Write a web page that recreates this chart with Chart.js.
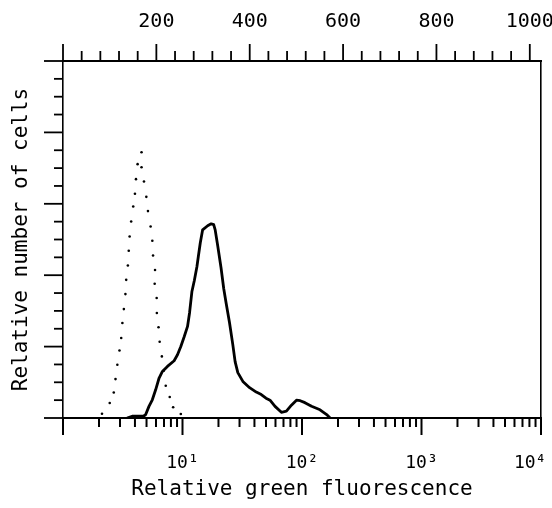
<!DOCTYPE html>
<html>
<head>
<meta charset="utf-8">
<script src="https://cdn.jsdelivr.net/npm/chart.js@4.4.1/dist/chart.umd.min.js"></script>
<style>
html,body{margin:0;padding:0;background:#fff;}
canvas{display:block;}
</style>
</head>
<body>
<canvas id="c" width="552" height="508"></canvas>
<script>
// ---- axis definitions ----
const fluorRange = [1, 10000];            // bottom axis (log)
const channelRange = [0, 1024];           // top axis (linear channel number)
const cellRange = [0, 20];                // left axis (relative number of cells)
const decadeTicks = [1, 10, 100, 1000, 10000];
const decadeLabels = ['', '10¹', '10²', '10³', '10⁴  '];
const minorMultipliers = [2, 3, 4, 5, 6, 7, 8, 9];
const channelTicks = [0, 40, 80, 120, 160, 200, 240, 280, 320, 360, 400, 440, 480, 520, 560, 600,
                      640, 680, 720, 760, 800, 840, 880, 920, 960, 1000];
const channelLabels = [200, 400, 600, 800, 1000];
const cellTicks = [0, 1, 2, 3, 4, 5, 6, 7, 8, 9, 10, 11, 12, 13, 14, 15, 16, 17, 18, 19, 20];
const cellMajorTicks = [0, 4, 8, 12, 16, 20];
const xTitle = 'Relative green fluorescence';
const yTitle = 'Relative number of cells';

// ---- control (dotted) histogram ----
const controlX = [2.12, 2.46, 2.66, 2.75, 2.85, 2.97, 3.07, 3.14, 3.23, 3.33, 3.38, 3.49, 3.55, 3.61,
                  3.72, 3.87, 4.00, 4.08, 4.21, 4.54, 4.54, 4.76, 4.98, 5.14, 5.41, 5.59, 5.67, 5.89,
                  5.85, 6.08, 6.10, 6.30, 6.44, 6.72, 6.96, 7.24, 7.82, 8.35, 9.68];
const controlY = [0.24, 0.84, 1.43, 2.18, 2.98, 3.78, 4.48, 5.32, 6.10, 6.94, 7.74, 8.54, 9.37, 10.17,
                  11.01, 11.85, 12.56, 13.38, 14.22, 14.89, 14.05, 13.25, 12.39, 11.59, 10.73, 9.93, 9.10, 8.29,
                  7.52, 6.72, 5.88, 5.08, 4.27, 3.45, 2.65, 1.81, 1.18, 0.60, 0.22];

// ---- stained (solid) histogram ----
const stainedX = [3.44, 3.79, 4.70, 4.91, 5.24, 5.59, 5.96, 6.37, 6.79, 7.48, 8.51, 9.08, 9.68, 10.33,
                  11.02, 11.46, 11.98, 12.55, 13.20, 13.56, 14.09, 14.74, 16.23, 17.38, 18.24, 18.77,
                  19.71, 21.01, 22.14, 23.15, 24.73, 26.36, 27.56, 29.04, 32.00, 36.43, 41.41, 45.61,
                  49.96, 53.99, 59.48, 67.22, 74.05, 81.58, 89.90, 96.56, 105.8, 120.2, 141.5, 160.8, 171.8];
const stainedY = [0, 0.10, 0.10, 0.18, 0.65, 1.02, 1.58, 2.24, 2.61, 2.89, 3.21, 3.54, 4.01, 4.55,
                  5.13, 5.90, 7.07, 7.69, 8.47, 9.03, 9.82, 10.54, 10.77, 10.88, 10.83, 10.54,
                  9.65, 8.42, 7.24, 6.46, 5.35, 4.11, 3.16, 2.54, 2.05, 1.70, 1.45, 1.31,
                  1.11, 1.00, 0.65, 0.32, 0.38, 0.72, 1.00, 0.97, 0.86, 0.66, 0.46, 0.19, 0];

// ---- derived tick list for the log axis ----
const bottomTickValues = [];
decadeTicks.forEach((d, i) => {
  bottomTickValues.push(d);
  if (i < decadeTicks.length - 1) minorMultipliers.forEach(m => bottomTickValues.push(d * m));
});

const FONT = '"DejaVu Sans Mono", "Liberation Mono", monospace';

const tickMarks = {
  id: 'tickMarks',
  afterDraw(chart) {
    const {ctx, chartArea: a, scales} = chart;
    ctx.save();
    ctx.strokeStyle = '#000';
    ctx.lineCap = 'butt';
    const seg = (x1, y1, x2, y2, w) => {
      ctx.lineWidth = w; ctx.beginPath(); ctx.moveTo(x1, y1); ctx.lineTo(x2, y2); ctx.stroke();
    };
    bottomTickValues.forEach(v => {
      const px = scales.x.getPixelForValue(v);
      const major = decadeTicks.includes(v);
      seg(px, a.bottom, px, a.bottom + (major ? 17 : 9), 2);
    });
    channelTicks.forEach(v => {
      const px = scales.x2.getPixelForValue(v);
      const major = v % 200 === 0;
      seg(px, a.top, px, a.top - (major ? 17 : 10), 1.8);
    });
    cellTicks.forEach(v => {
      const py = scales.y.getPixelForValue(v);
      const major = cellMajorTicks.includes(v);
      seg(a.left, py, a.left - (major ? 19 : 9), py, 1.8);
    });
    ctx.restore();
  }
};

new Chart(document.getElementById('c'), {
  type: 'scatter',
  data: {
    datasets: [
      {
        label: 'Control',
        data: controlX.map((x, i) => ({x: x, y: controlY[i]})),
        showLine: false,
        pointRadius: 1.3,
        pointBackgroundColor: '#000',
        pointBorderWidth: 0,
        xAxisID: 'x', yAxisID: 'y'
      },
      {
        label: 'Stained',
        data: stainedX.map((x, i) => ({x: x, y: stainedY[i]})),
        showLine: true,
        borderColor: '#000',
        borderWidth: 2.8,
        borderJoinStyle: 'round',
        pointRadius: 0,
        tension: 0,
        xAxisID: 'x', yAxisID: 'y'
      }
    ]
  },
  options: {
    responsive: false,
    animation: false,
    devicePixelRatio: 1,
    layout: {padding: 0},
    plugins: {legend: {display: false}, tooltip: {enabled: false}},
    scales: {
      x: {
        type: 'logarithmic', position: 'bottom',
        min: fluorRange[0], max: fluorRange[1],
        afterBuildTicks(s) { s.ticks = bottomTickValues.map(v => ({value: v})); },
        ticks: {
          autoSkip: false, maxRotation: 0, minRotation: 0, padding: 27, color: '#000',
          font: {family: FONT, size: 18},
          callback(v) { const i = decadeTicks.indexOf(v); return i >= 0 ? decadeLabels[i] : ''; }
        },
        grid: {display: false},
        border: {display: true, color: '#000', width: 2},
        title: {display: true, text: xTitle, color: '#000', font: {family: FONT, size: 21}, padding: {top: 0, bottom: 6}},
        afterFit(s) { s.height = 90; s.paddingLeft = 0; s.paddingRight = 0; }
      },
      x2: {
        type: 'linear', position: 'top',
        min: channelRange[0], max: channelRange[1],
        afterBuildTicks(s) { s.ticks = channelTicks.map(v => ({value: v})); },
        ticks: {
          autoSkip: false, maxRotation: 0, minRotation: 0, padding: 19, color: '#000',
          font: {family: FONT, size: 20},
          callback(v) { return channelLabels.includes(v) ? String(v) : ''; }
        },
        grid: {display: false},
        border: {display: true, color: '#000', width: 2},
        afterFit(s) { s.height = 61; s.paddingLeft = 0; s.paddingRight = 0; }
      },
      y: {
        type: 'linear', position: 'left',
        min: cellRange[0], max: cellRange[1],
        ticks: {display: false},
        grid: {display: false},
        border: {display: true, color: '#000', width: 1.6},
        title: {display: true, text: yTitle, color: '#000', font: {family: FONT, size: 21}, padding: {top: 9, bottom: 0}},
        afterFit(s) { s.width = 63; s.paddingTop = 0; s.paddingBottom = 0; }
      },
      yR: {
        type: 'linear', position: 'right',
        min: cellRange[0], max: cellRange[1],
        ticks: {display: false},
        grid: {display: false},
        border: {display: true, color: '#000', width: 1.6},
        afterFit(s) { s.width = 11; s.paddingTop = 0; s.paddingBottom = 0; }
      }
    }
  },
  plugins: [tickMarks]
});
</script>
</body>
</html>
